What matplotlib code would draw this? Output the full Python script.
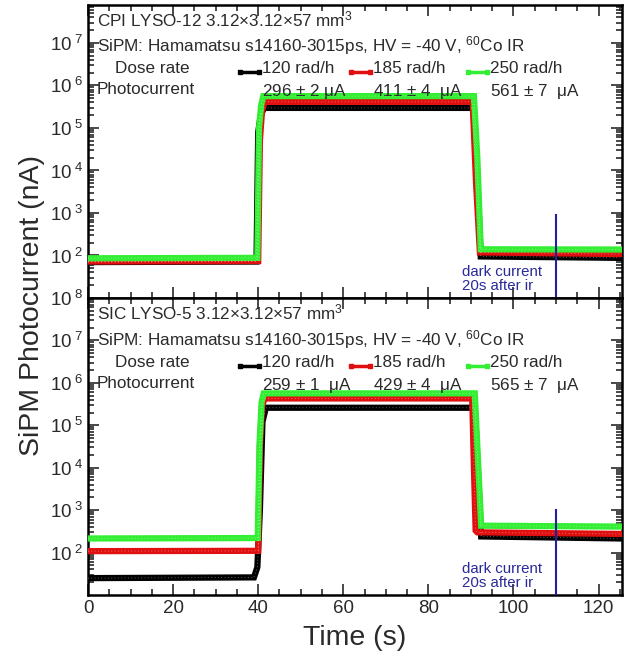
import math
import matplotlib
matplotlib.use("Agg")
import matplotlib.pyplot as plt
from matplotlib.ticker import MultipleLocator, LogLocator, FixedLocator, NullFormatter, FuncFormatter

plt.rcParams['font.family'] = ['Liberation Sans', 'DejaVu Sans']
plt.rcParams['mathtext.fontset'] = 'custom'
plt.rcParams['mathtext.rm'] = 'Liberation Sans'
plt.rcParams['mathtext.it'] = 'Liberation Sans'

# ---------------- data (key points) ----------------
series_labels = ["120 rad/h", "185 rad/h", "250 rad/h"]
series_colors = ["#000000", "#e01010", "#33ee33"]

# top panel: CPI LYSO-12
top_title = "CPI LYSO-12 3.12\u00d73.12\u00d757 mm$^3$"
top_currents = ["296 $\\pm$ 2 \u03bcA", "411 $\\pm$ 4  \u03bcA", "561 $\\pm$ 7  \u03bcA"]
top_t_black = [0, 39.6, 40.0, 40.6, 41.4, 90.6, 91.4, 92.3, 125]
top_v_black = [70, 72, 8e4, 2.0e5, 2.96e5, 2.96e5, 1.0e4, 95, 88]
top_t_red = [0, 40.0, 40.4, 40.9, 41.5, 90.4, 91.2, 92.1, 125]
top_v_red = [72, 74, 5e4, 2.5e5, 4.11e5, 4.11e5, 5e3, 118, 108]
top_t_green = [0, 39.8, 40.2, 40.7, 41.2, 90.7, 91.5, 92.3, 125]
top_v_green = [86, 88, 1e5, 3.5e5, 5.61e5, 5.61e5, 2e4, 140, 138]

# bottom panel: SIC LYSO-5
bot_title = "SIC LYSO-5 3.12\u00d73.12\u00d757 mm$^3$"
bot_currents = ["259 $\\pm$ 1  \u03bcA", "429 $\\pm$ 4  \u03bcA", "565 $\\pm$ 7  \u03bcA"]
bot_t_black = [0, 39.0, 39.8, 40.4, 41.0, 41.8, 90.9, 91.6, 92.4, 125]
bot_v_black = [25, 26, 45, 1e3, 1.2e5, 2.59e5, 2.59e5, 1e4, 240, 215]
bot_t_red = [0, 40.0, 40.4, 40.9, 41.5, 90.3, 90.7, 91.1, 91.5, 125]
bot_v_red = [108, 110, 3e4, 2.8e5, 4.29e5, 4.29e5, 1e4, 330, 300, 275]
bot_t_green = [0, 39.9, 40.3, 40.8, 41.3, 90.9, 91.6, 92.4, 125]
bot_v_green = [215, 220, 3.5e4, 3.5e5, 5.65e5, 5.65e5, 2e4, 430, 410]

sipm_line = "SiPM: Hamamatsu s14160-3015ps, HV = -40 V, $^{60}$Co IR"
dark_time = 110
dark_top_y = 900
dark_bot_y = 1000
x_ticks = [0, 20, 40, 60, 80, 100, 120]

TXT = '#2a2a2a'

# ---------------- figure ----------------
fig = plt.figure(figsize=(6.27, 6.58), dpi=100)
L, R = 88 / 627, 622 / 627
ax_top = fig.add_axes([L, 1 - 298 / 658, R - L, 293 / 658])
ax_bot = fig.add_axes([L, 1 - 595 / 658, R - L, 297 / 658])

def fmt(v, pos):
    e = int(round(math.log10(v)))
    return r"$\mathregular{10^{\ %d}}$" % e

def style(ax, ymax, ylabels):
    ax.set_yscale('log')
    ax.set_xlim(0, 125.5)
    ax.set_ylim(10, ymax)
    ax.xaxis.set_major_locator(FixedLocator(x_ticks))
    ax.xaxis.set_minor_locator(MultipleLocator(5))
    ax.yaxis.set_major_locator(FixedLocator(ylabels))
    ax.yaxis.set_minor_locator(LogLocator(base=10, subs=range(2, 10), numticks=20))
    ax.yaxis.set_minor_formatter(NullFormatter())
    ax.yaxis.set_major_formatter(FuncFormatter(fmt))
    ax.tick_params(which='both', direction='in', top=True, right=True, width=1.2,
                   labelsize=13.5, colors=TXT)
    ax.tick_params(which='major', length=8)
    ax.tick_params(which='minor', length=4)
    for s in ax.spines.values():
        s.set_linewidth(1.8)

def draw(ax, ts, vs, title, currents, dark_y):
    for t, v, c in zip(ts, vs, series_colors):
        ax.plot(t, v, color=c, lw=4.5, solid_joinstyle='miter', zorder=3)
        ax.plot(t, v, color='white', lw=0.6, ls=(0, (1, 3)), alpha=0.5, zorder=4)
    fs = 12.3
    ax.text(0.017, 0.985, title, transform=ax.transAxes, fontsize=fs, va='top', ha='left', color=TXT)
    ax.text(0.017, 0.90, sipm_line, transform=ax.transAxes, fontsize=fs, va='top', ha='left', color=TXT)
    ax.text(0.05, 0.808, "Dose rate", transform=ax.transAxes, fontsize=fs, va='top', ha='left', color=TXT)
    ax.text(0.017, 0.738, "Photocurrent", transform=ax.transAxes, fontsize=fs, va='top', ha='left', color=TXT)
    xs = [0.325, 0.533, 0.752]
    for x, lab, cur, c in zip(xs, series_labels, currents, series_colors):
        ax.plot([x - 0.04, x - 0.005], [0.772, 0.772], transform=ax.transAxes,
                color=c, lw=2.5, marker='s', ms=3, clip_on=False)
        ax.text(x, 0.808, lab, transform=ax.transAxes, fontsize=fs, va='top', ha='left', color=TXT)
        ax.text(x, 0.738, cur, transform=ax.transAxes, fontsize=fs, va='top', ha='left', color=TXT)
    ax.plot([dark_time, dark_time], [dark_y, 10], color='#2020a0', lw=1.5, zorder=5)
    ax.text(88, 28, "dark current\n20s after ir", color='#2a2a9a',
            fontsize=10.8, ha='left', va='center', linespacing=1.05)

style(ax_top, 7.8e7, [1e2, 1e3, 1e4, 1e5, 1e6, 1e7])
style(ax_bot, 1e8, [1e2, 1e3, 1e4, 1e5, 1e6, 1e7, 1e8])
ax_top.tick_params(axis='x', labelbottom=False)

draw(ax_top, [top_t_black, top_t_red, top_t_green],
     [top_v_black, top_v_red, top_v_green], top_title, top_currents, dark_top_y)
draw(ax_bot, [bot_t_black, bot_t_red, bot_t_green],
     [bot_v_black, bot_v_red, bot_v_green], bot_title, bot_currents, dark_bot_y)

ax_bot.set_xlabel("Time (s)", fontsize=20.5, color=TXT, labelpad=6)
fig.text(0.051, 0.536, "SiPM Photocurrent (nA)", rotation=90, fontsize=20.5,
         ha='center', va='center', color=TXT)

fig.savefig("out.png", dpi=100)
